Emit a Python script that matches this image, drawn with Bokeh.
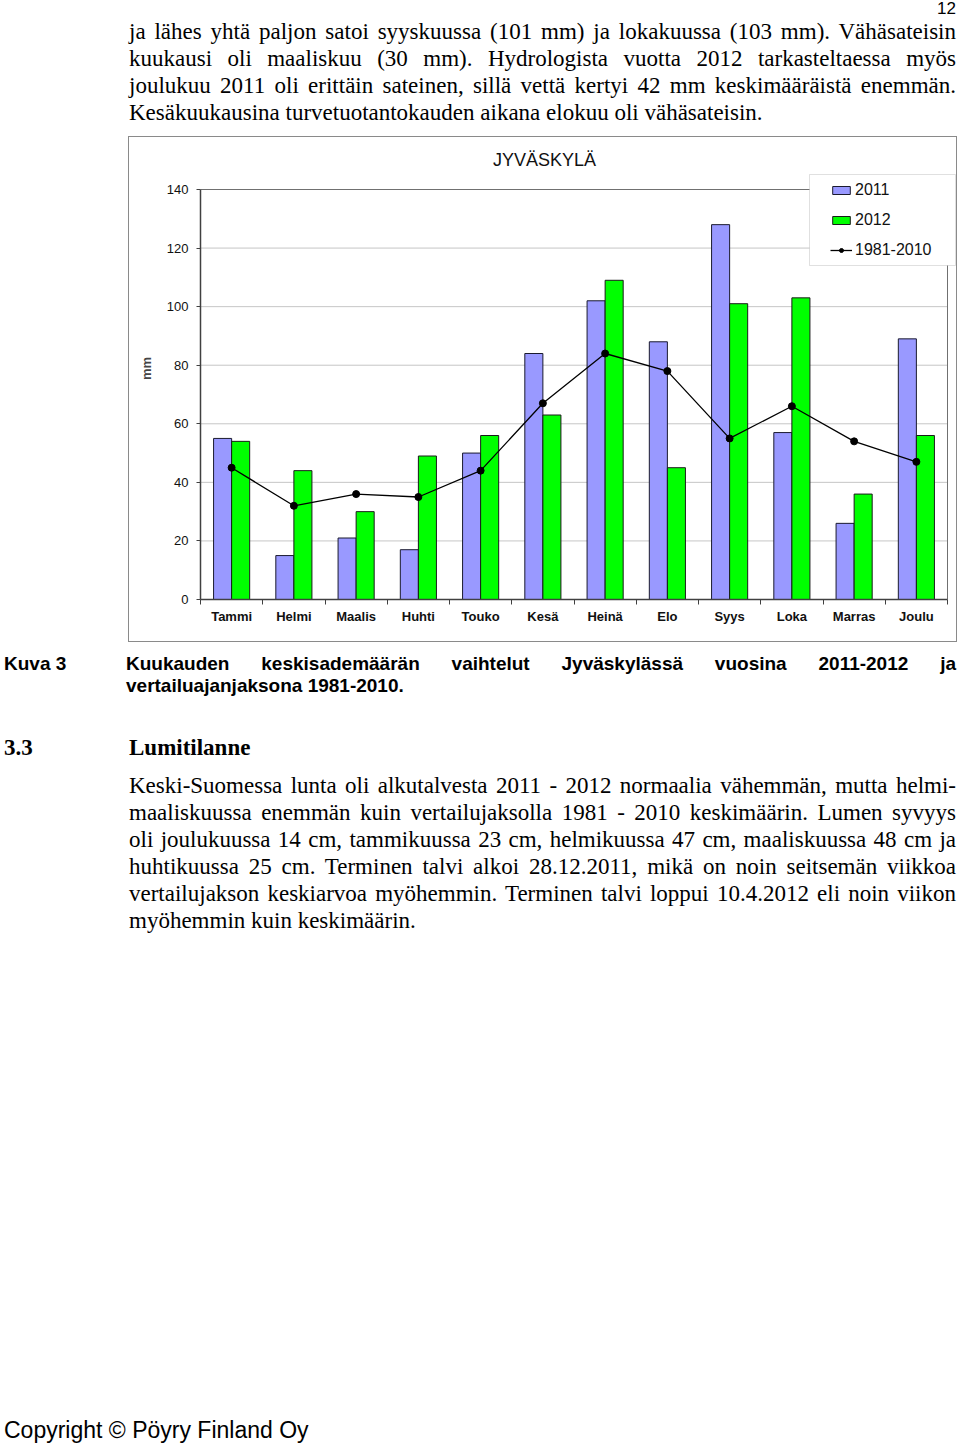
from bokeh.plotting import figure
from bokeh.models import (Range1d, FixedTicker, Legend, LegendItem, BoxAnnotation, Label,
                          Div, Spacer, ColumnDataSource)
from bokeh.layouts import column, row
from bokeh.embed import file_html
from bokeh.resources import INLINE

# ---------------- data ----------------
months = ["Tammi", "Helmi", "Maalis", "Huhti", "Touko", "Kesä",
          "Heinä", "Elo", "Syys", "Loka", "Marras", "Joulu"]
rain_2011 = [55, 15, 21, 17, 50, 84, 102, 88, 128, 57, 26, 89]
rain_2012 = [54, 44, 30, 49, 56, 63, 109, 45, 101, 103, 36, 56]
rain_1981_2010 = [45, 32, 36, 35, 44, 67, 84, 78, 55, 66, 54, 47]
y_ticks = [0, 20, 40, 60, 80, 100, 120, 140]
series_labels = ["2011", "2012", "1981-2010"]
chart_title = "JYVÄSKYLÄ"

top_lines = [
    "ja lähes yhtä paljon satoi syyskuussa (101 mm) ja lokakuussa (103 mm). Vähäsateisin",
    "kuukausi oli maaliskuu (30 mm). Hydrologista vuotta 2012 tarkasteltaessa myös",
    "joulukuu 2011 oli erittäin sateinen, sillä vettä kertyi 42 mm keskimääräistä enemmän.",
    "Kesäkuukausina turvetuotantokauden aikana elokuu oli vähäsateisin.",
]
caption_lines = [
    "Kuukauden keskisademäärän vaihtelut Jyväskylässä vuosina 2011-2012 ja",
    "vertailuajanjaksona 1981-2010.",
]
body_lines = [
    "Keski-Suomessa lunta oli alkutalvesta 2011 - 2012 normaalia vähemmän, mutta helmi-",
    "maaliskuussa enemmän kuin vertailujaksolla 1981 - 2010 keskimäärin. Lumen syvyys",
    "oli joulukuussa 14 cm, tammikuussa 23 cm, helmikuussa 47 cm, maaliskuussa 48 cm ja",
    "huhtikuussa 25 cm. Terminen talvi alkoi 28.12.2011, mikä on noin seitsemän viikkoa",
    "vertailujakson keskiarvoa myöhemmin. Terminen talvi loppui 10.4.2012 eli noin viikon",
    "myöhemmin kuin keskimäärin.",
]

# ---------------- layout geometry (pixels) ----------------
TOP_H = 136
LEFT_PAD = 128
FIG_W, FIG_H = 829, 506
BORDER_L, BORDER_B = 71, 44
FRAME_W = FIG_W - BORDER_L          # frame reaches the right edge of the chart box
FRAME_H = FIG_H - BORDER_B          # frame reaches the top edge of the chart box
PLOT_W_PX = 747                     # width of the plot area (0..12)
PLOT_H_PX = 410                     # height of the plot area (0..140)

n = len(months)
ymax = y_ticks[-1]
x_end = n * FRAME_W / PLOT_W_PX
y_end = ymax * FRAME_H / PLOT_H_PX

# ---------------- chart ----------------
idx = list(range(n))
bw = 0.29
src = ColumnDataSource(dict(
    xc=[i + 0.5 for i in idx],
    x11=[i + 0.5 - bw / 2 for i in idx],
    x12=[i + 0.5 + bw / 2 for i in idx],
    y11=rain_2011, y12=rain_2012, yr=rain_1981_2010,
))

SANS = "Liberation Sans"
p = figure(width=FIG_W, height=FIG_H, x_range=Range1d(0, x_end), y_range=Range1d(0, y_end),
           output_backend="svg", toolbar_location=None, title=None,
           min_border_left=BORDER_L, min_border_right=0, min_border_top=0,
           min_border_bottom=BORDER_B)
p.styles = {"border": "1px solid #8a8a8a"}
p.background_fill_color = "white"
p.border_fill_color = "white"
p.outline_line_color = None
p.xgrid.visible = False
p.ygrid.visible = False

# dotted horizontal grid inside the plot area
grid_y = y_ticks[1:-1]
p.segment(x0=[0] * len(grid_y), x1=[n] * len(grid_y), y0=grid_y, y1=grid_y,
          line_color="#8c8c8c", line_dash="1 1", line_width=1)
# plot-area border
p.quad(left=[0], right=[n], bottom=[0], top=[ymax], fill_color=None,
       line_color="#707070", line_width=1)

r11 = p.vbar(x="x11", top="y11", width=bw, source=src,
             fill_color="#9999FF", line_color="#1a1a2e", line_width=1)
r12 = p.vbar(x="x12", top="y12", width=bw, source=src,
             fill_color="#00FF00", line_color="#1a1a1a", line_width=1)
rl = p.line(x="xc", y="yr", source=src, line_color="black", line_width=1.3)
rs = p.scatter(x="xc", y="yr", source=src, size=7, color="black")

# x axis: labels at month centres, minor ticks at boundaries
p.xaxis.bounds = (0, n)
p.xaxis.ticker = FixedTicker(ticks=[i + 0.5 for i in idx], minor_ticks=list(range(n + 1)))
p.xaxis.major_label_overrides = {i + 0.5: m for i, m in zip(idx, months)}
p.xaxis.major_tick_out = 0
p.xaxis.major_tick_in = 0
p.xaxis.major_tick_line_color = None
p.xaxis.minor_tick_out = 5
p.xaxis.minor_tick_in = 0
p.xaxis.minor_tick_line_color = "#404040"
p.xaxis.major_label_standoff = 4
p.xaxis.major_label_text_font = SANS
p.xaxis.major_label_text_font_size = "13px"
p.xaxis.major_label_text_font_style = "bold"
p.xaxis.major_label_text_color = "#111111"
p.xaxis.axis_line_color = "#404040"
p.xaxis.axis_line_width = 1.5

p.yaxis.bounds = (0, ymax)
p.yaxis.ticker = FixedTicker(ticks=y_ticks)
p.yaxis.major_tick_out = 4
p.yaxis.major_tick_in = 0
p.yaxis.major_tick_line_color = "#404040"
p.yaxis.minor_tick_line_color = None
p.yaxis.major_label_standoff = 8
p.yaxis.major_label_text_font = SANS
p.yaxis.major_label_text_font_size = "13px"
p.yaxis.major_label_text_color = "#111111"
p.yaxis.axis_line_color = "#404040"
p.yaxis.axis_line_width = 1.5
p.yaxis.axis_label = "mm"
p.yaxis.axis_label_text_font = SANS
p.yaxis.axis_label_text_font_size = "13px"
p.yaxis.axis_label_text_font_style = "bold"
p.yaxis.axis_label_standoff = 10

# chart title (screen units relative to the frame's bottom-left)
p.add_layout(Label(x=344, y=440, x_units="screen", y_units="screen", text=chart_title,
                   text_align="center", text_baseline="middle", text_font=SANS,
                   text_font_size="18px", text_color="#111111"))

box = BoxAnnotation(left=609, right=755, bottom=334, top=425,
                    left_units="screen", right_units="screen",
                    bottom_units="screen", top_units="screen",
                    fill_color="white", fill_alpha=1.0,
                    line_color="#999999", line_width=1)
p.add_layout(box, "center")

legend = Legend(items=[LegendItem(label=series_labels[0], renderers=[r11]),
                       LegendItem(label=series_labels[1], renderers=[r12]),
                       LegendItem(label=series_labels[2], renderers=[rl, rs])],
                location=(630, 340), padding=0, margin=0, spacing=12,
                glyph_width=22, glyph_height=10, label_height=12, label_standoff=3,
                label_text_font=SANS, label_text_font_size="16px",
                label_text_color="#111111",
                border_line_alpha=0, background_fill_alpha=0)
p.add_layout(legend, "center")

# ---------------- page text ----------------
SERIF = "'Liberation Serif'"
SANSQ = "'Liberation Sans'"


def line_div(text, left, top, width, font, size, weight, justify, lh, align="left"):
    style = (f"position:absolute;left:{left}px;top:{top}px;width:{width}px;"
             f"white-space:nowrap;font-family:{font};font-size:{size}px;"
             f"font-weight:{weight};line-height:{lh}px;color:#000;text-align:{align};")
    if justify:
        style += "text-align:justify;text-align-last:justify;"
    return f'<div style="{style}">{text}</div>'


top_html = [f'<div style="position:relative;width:960px;height:{TOP_H}px;overflow:hidden;">']
top_html.append(line_div("12", 900, 1, 56, SANSQ, 17, "normal", False, 15, "right"))
for k, t in enumerate(top_lines):
    top_html.append(line_div(t, 129, 31 + 27 * k - 13.5, 827, SERIF, 23, "normal",
                             k < len(top_lines) - 1, 27))
top_html.append("</div>")

off = TOP_H + FIG_H
BOT_H = 1446 - off
bot_html = [f'<div style="position:relative;width:960px;height:{BOT_H}px;overflow:hidden;">']
bot_html.append(line_div("Kuva 3", 4, 664 - off - 11, 110, SANSQ, 19, "bold", False, 22))
for k, t in enumerate(caption_lines):
    bot_html.append(line_div(t, 126, 664 - off - 11 + 22 * k, 830, SANSQ, 19, "bold",
                             k < len(caption_lines) - 1, 22))
bot_html.append(line_div("3.3", 4, 747 - off - 13.5, 100, SERIF, 23, "bold", False, 27))
bot_html.append(line_div("Lumitilanne", 129, 747 - off - 13.5, 400, SERIF, 23, "bold", False, 27))
for k, t in enumerate(body_lines):
    bot_html.append(line_div(t, 129, 785 - off - 13.5 + 27 * k, 827, SERIF, 23, "normal",
                             k < len(body_lines) - 1, 27))
bot_html.append(line_div("Copyright © Pöyry Finland Oy", 4, 1430 - off - 13.5, 500, SANSQ, 23,
                         "normal", False, 27))
bot_html.append("</div>")

top_div = Div(text="".join(top_html), width=960, height=TOP_H, margin=0)
bot_div = Div(text="".join(bot_html), width=960, height=BOT_H, margin=0)

layout = column(top_div, row(Spacer(width=LEFT_PAD, height=FIG_H, margin=0), p), bot_div)

with open("out.html", "w", encoding="utf-8") as f:
    f.write(file_html(layout, INLINE))
